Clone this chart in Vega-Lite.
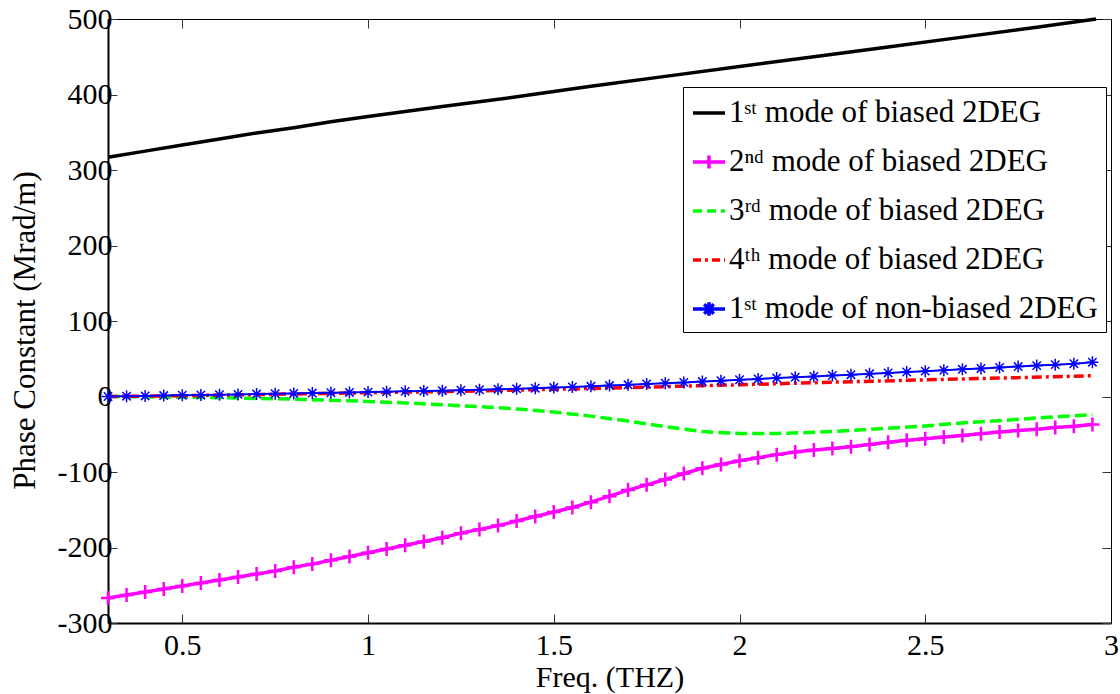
{
  "$schema": "https://vega.github.io/schema/vega-lite/v6.json",
  "width": 1003,
  "height": 604,
  "autosize": {"type": "none"},
  "padding": {"left": 108, "top": 19, "right": 9, "bottom": 71},
  "background": "white",
  "config": {
    "view": {"stroke": null},
    "font": "Liberation Serif",
    "axis": {
      "grid": false,
      "domainColor": "black",
      "tickColor": "#333333",
      "tickWidth": 1,
      "labelFont": "Liberation Serif",
      "labelFontSize": 30,
      "labelColor": "black",
      "titleFont": "Liberation Serif",
      "titleFontSize": 31,
      "titleFontWeight": "normal",
      "titleColor": "black",
      "labelOverlap": false,
      "labelFlush": false
    }
  },
  "datasets": {
    "d": [
      {"s": "m1", "x": 0.3, "y": 317}, {"s": "m1", "x": 0.4, "y": 325}, {"s": "m1", "x": 0.5, "y": 333}, {"s": "m1", "x": 0.6, "y": 341}, {"s": "m1", "x": 0.7, "y": 349}, {"s": "m1", "x": 0.8, "y": 356}, {"s": "m1", "x": 0.9, "y": 364}, {"s": "m1", "x": 1.0, "y": 371}, {"s": "m1", "x": 1.2, "y": 384}, {"s": "m1", "x": 1.4, "y": 397}, {"s": "m1", "x": 1.6, "y": 411}, {"s": "m1", "x": 1.8, "y": 424}, {"s": "m1", "x": 2.0, "y": 437}, {"s": "m1", "x": 2.2, "y": 450}, {"s": "m1", "x": 2.4, "y": 463}, {"s": "m1", "x": 2.6, "y": 476}, {"s": "m1", "x": 2.8, "y": 489}, {"s": "m1", "x": 2.96, "y": 500},

      {"s": "m2", "x": 0.30, "y": -267}, {"s": "m2", "x": 0.35, "y": -263}, {"s": "m2", "x": 0.40, "y": -259}, {"s": "m2", "x": 0.45, "y": -255}, {"s": "m2", "x": 0.50, "y": -251}, {"s": "m2", "x": 0.55, "y": -247}, {"s": "m2", "x": 0.60, "y": -243}, {"s": "m2", "x": 0.65, "y": -239}, {"s": "m2", "x": 0.70, "y": -235}, {"s": "m2", "x": 0.75, "y": -231}, {"s": "m2", "x": 0.80, "y": -226}, {"s": "m2", "x": 0.85, "y": -222}, {"s": "m2", "x": 0.90, "y": -217}, {"s": "m2", "x": 0.95, "y": -212}, {"s": "m2", "x": 1.00, "y": -207}, {"s": "m2", "x": 1.05, "y": -202}, {"s": "m2", "x": 1.10, "y": -197}, {"s": "m2", "x": 1.15, "y": -192}, {"s": "m2", "x": 1.20, "y": -187}, {"s": "m2", "x": 1.25, "y": -181}, {"s": "m2", "x": 1.30, "y": -176}, {"s": "m2", "x": 1.35, "y": -171}, {"s": "m2", "x": 1.40, "y": -165}, {"s": "m2", "x": 1.45, "y": -159}, {"s": "m2", "x": 1.50, "y": -153}, {"s": "m2", "x": 1.55, "y": -147}, {"s": "m2", "x": 1.60, "y": -140}, {"s": "m2", "x": 1.65, "y": -132}, {"s": "m2", "x": 1.70, "y": -124}, {"s": "m2", "x": 1.75, "y": -117}, {"s": "m2", "x": 1.80, "y": -110}, {"s": "m2", "x": 1.85, "y": -102}, {"s": "m2", "x": 1.90, "y": -95}, {"s": "m2", "x": 1.95, "y": -90}, {"s": "m2", "x": 2.00, "y": -85}, {"s": "m2", "x": 2.05, "y": -81}, {"s": "m2", "x": 2.10, "y": -77}, {"s": "m2", "x": 2.15, "y": -73.5}, {"s": "m2", "x": 2.20, "y": -71}, {"s": "m2", "x": 2.25, "y": -69}, {"s": "m2", "x": 2.30, "y": -66.5}, {"s": "m2", "x": 2.35, "y": -63.5}, {"s": "m2", "x": 2.40, "y": -60.5}, {"s": "m2", "x": 2.45, "y": -58}, {"s": "m2", "x": 2.50, "y": -56}, {"s": "m2", "x": 2.55, "y": -53.5}, {"s": "m2", "x": 2.60, "y": -51.5}, {"s": "m2", "x": 2.65, "y": -49.3}, {"s": "m2", "x": 2.70, "y": -47}, {"s": "m2", "x": 2.75, "y": -45}, {"s": "m2", "x": 2.80, "y": -43.3}, {"s": "m2", "x": 2.85, "y": -41.2}, {"s": "m2", "x": 2.90, "y": -39.3}, {"s": "m2", "x": 2.95, "y": -37},

      {"s": "m3", "x": 0.3, "y": 0}, {"s": "m3", "x": 0.4, "y": -0.5}, {"s": "m3", "x": 0.5, "y": -1}, {"s": "m3", "x": 0.6, "y": -1.5}, {"s": "m3", "x": 0.7, "y": -2.5}, {"s": "m3", "x": 0.8, "y": -3.5}, {"s": "m3", "x": 0.9, "y": -5}, {"s": "m3", "x": 1.0, "y": -6.5}, {"s": "m3", "x": 1.1, "y": -8.5}, {"s": "m3", "x": 1.2, "y": -11}, {"s": "m3", "x": 1.3, "y": -13.5}, {"s": "m3", "x": 1.4, "y": -16.5}, {"s": "m3", "x": 1.5, "y": -20.5}, {"s": "m3", "x": 1.6, "y": -26}, {"s": "m3", "x": 1.7, "y": -32.5}, {"s": "m3", "x": 1.8, "y": -40}, {"s": "m3", "x": 1.9, "y": -46.5}, {"s": "m3", "x": 2.0, "y": -49}, {"s": "m3", "x": 2.1, "y": -49}, {"s": "m3", "x": 2.2, "y": -47.5}, {"s": "m3", "x": 2.3, "y": -45}, {"s": "m3", "x": 2.4, "y": -42}, {"s": "m3", "x": 2.5, "y": -39}, {"s": "m3", "x": 2.6, "y": -35}, {"s": "m3", "x": 2.7, "y": -32}, {"s": "m3", "x": 2.8, "y": -28.5}, {"s": "m3", "x": 2.9, "y": -25.5}, {"s": "m3", "x": 2.95, "y": -24},

      {"s": "m4", "x": 0.3, "y": 0}, {"s": "m4", "x": 0.5, "y": 1}, {"s": "m4", "x": 0.7, "y": 2.5}, {"s": "m4", "x": 1.0, "y": 5}, {"s": "m4", "x": 1.25, "y": 7}, {"s": "m4", "x": 1.5, "y": 9.5}, {"s": "m4", "x": 1.75, "y": 12.5}, {"s": "m4", "x": 2.0, "y": 15.5}, {"s": "m4", "x": 2.25, "y": 19}, {"s": "m4", "x": 2.5, "y": 22}, {"s": "m4", "x": 2.75, "y": 25}, {"s": "m4", "x": 2.95, "y": 27.5},

      {"s": "nb", "x": 0.30, "y": 0}, {"s": "nb", "x": 0.35, "y": 0.4}, {"s": "nb", "x": 0.40, "y": 0.8}, {"s": "nb", "x": 0.45, "y": 1.2}, {"s": "nb", "x": 0.50, "y": 1.6}, {"s": "nb", "x": 0.55, "y": 2.0}, {"s": "nb", "x": 0.60, "y": 2.4}, {"s": "nb", "x": 0.65, "y": 2.8}, {"s": "nb", "x": 0.70, "y": 3.2}, {"s": "nb", "x": 0.75, "y": 3.7}, {"s": "nb", "x": 0.80, "y": 4.1}, {"s": "nb", "x": 0.85, "y": 4.5}, {"s": "nb", "x": 0.90, "y": 5.0}, {"s": "nb", "x": 0.95, "y": 5.4}, {"s": "nb", "x": 1.00, "y": 5.8}, {"s": "nb", "x": 1.05, "y": 6.3}, {"s": "nb", "x": 1.10, "y": 6.8}, {"s": "nb", "x": 1.15, "y": 7.2}, {"s": "nb", "x": 1.20, "y": 7.7}, {"s": "nb", "x": 1.25, "y": 8.3}, {"s": "nb", "x": 1.30, "y": 8.9}, {"s": "nb", "x": 1.35, "y": 9.5}, {"s": "nb", "x": 1.40, "y": 10.2}, {"s": "nb", "x": 1.45, "y": 11.0}, {"s": "nb", "x": 1.50, "y": 11.8}, {"s": "nb", "x": 1.55, "y": 12.6}, {"s": "nb", "x": 1.60, "y": 13.5}, {"s": "nb", "x": 1.65, "y": 14.5}, {"s": "nb", "x": 1.70, "y": 15.5}, {"s": "nb", "x": 1.75, "y": 16.5}, {"s": "nb", "x": 1.80, "y": 17.6}, {"s": "nb", "x": 1.85, "y": 18.7}, {"s": "nb", "x": 1.90, "y": 19.8}, {"s": "nb", "x": 1.95, "y": 21.0}, {"s": "nb", "x": 2.00, "y": 22.2}, {"s": "nb", "x": 2.05, "y": 23.3}, {"s": "nb", "x": 2.10, "y": 24.4}, {"s": "nb", "x": 2.15, "y": 25.5}, {"s": "nb", "x": 2.20, "y": 26.6}, {"s": "nb", "x": 2.25, "y": 27.8}, {"s": "nb", "x": 2.30, "y": 28.9}, {"s": "nb", "x": 2.35, "y": 30.0}, {"s": "nb", "x": 2.40, "y": 31.2}, {"s": "nb", "x": 2.45, "y": 32.4}, {"s": "nb", "x": 2.50, "y": 33.6}, {"s": "nb", "x": 2.55, "y": 34.8}, {"s": "nb", "x": 2.60, "y": 36.0}, {"s": "nb", "x": 2.65, "y": 37.2}, {"s": "nb", "x": 2.70, "y": 38.4}, {"s": "nb", "x": 2.75, "y": 39.6}, {"s": "nb", "x": 2.80, "y": 40.9}, {"s": "nb", "x": 2.85, "y": 42.2}, {"s": "nb", "x": 2.90, "y": 43.5}, {"s": "nb", "x": 2.95, "y": 45.5}
    ]
  },
  "data": {"name": "d"},
  "layer": [
    {
      "transform": [{"filter": "datum.s == 'm1'"}],
      "mark": {"type": "line", "color": "#000000", "strokeWidth": 3.5},
      "encoding": {
        "x": {"field": "x", "type": "quantitative", "scale": {"domain": [0.3, 3], "nice": false, "zero": false},
          "axis": {"orient": "bottom", "values": [0.5, 1, 1.5, 2, 2.5, 3], "format": "~g", "tickSize": -9, "labelPadding": 16, "domainWidth": 2, "title": "Freq. (THZ)", "titleFontSize": 30, "titlePadding": 2}},
        "y": {"field": "y", "type": "quantitative", "scale": {"domain": [-300, 500], "nice": false, "zero": false},
          "axis": {"orient": "left", "values": [-300, -200, -100, 0, 100, 200, 300, 400, 500], "labelExpr": "'' + datum.value", "tickSize": -9, "labelPadding": 5, "domainWidth": 2, "title": "Phase Constant (Mrad/m)", "titlePadding": 16, "titleY": 311}}
      }
    },
    {
      "transform": [{"filter": "datum.s == 'm2'"}],
      "mark": {"type": "line", "color": "#ff00ff", "strokeWidth": 3.5},
      "encoding": {
        "x": {"field": "x", "type": "quantitative", "axis": null},
        "y": {"field": "y", "type": "quantitative", "axis": null}
      }
    },
    {
      "transform": [{"filter": "datum.s == 'm2'"}],
      "mark": {"type": "point", "shape": "M-1,0H1M0,-1V1", "size": 196, "filled": false, "stroke": "#ff00ff", "strokeWidth": 2.5, "opacity": 1},
      "encoding": {
        "x": {"field": "x", "type": "quantitative", "axis": null},
        "y": {"field": "y", "type": "quantitative", "axis": null}
      }
    },
    {
      "transform": [{"filter": "datum.s == 'm3'"}],
      "mark": {"type": "line", "color": "#00ff00", "strokeWidth": 3.5, "strokeDash": [12, 5]},
      "encoding": {
        "x": {"field": "x", "type": "quantitative", "axis": null},
        "y": {"field": "y", "type": "quantitative", "axis": null}
      }
    },
    {
      "transform": [{"filter": "datum.s == 'm4'"}],
      "mark": {"type": "line", "color": "#ff0000", "strokeWidth": 3.5, "strokeDash": [10, 4, 3, 4]},
      "encoding": {
        "x": {"field": "x", "type": "quantitative", "axis": null},
        "y": {"field": "y", "type": "quantitative", "axis": null}
      }
    },
    {
      "transform": [{"filter": "datum.s == 'nb'"}],
      "mark": {"type": "line", "color": "#0000ff", "strokeWidth": 2},
      "encoding": {
        "x": {"field": "x", "type": "quantitative", "axis": null},
        "y": {"field": "y", "type": "quantitative", "axis": null}
      }
    },
    {
      "transform": [{"filter": "datum.s == 'nb'"}],
      "mark": {"type": "point", "shape": "M-1,0L1,0M0,-1L0,1M-0.7,-0.7L0.7,0.7M-0.7,0.7L0.7,-0.7", "size": 144, "filled": false, "stroke": "#0000ff", "strokeWidth": 1.5, "opacity": 1},
      "encoding": {
        "x": {"field": "x", "type": "quantitative", "axis": null},
        "y": {"field": "y", "type": "quantitative", "axis": null}
      }
    },
    {
      "transform": [{"filter": "datum.x > 99"}],
      "mark": {"type": "point", "filled": false, "opacity": 1},
      "encoding": {
        "x": {"field": "x", "type": "quantitative",
          "axis": {"orient": "top", "values": [0.5, 1, 1.5, 2, 2.5, 3], "labels": false, "tickSize": -9, "domainWidth": 1, "title": null}},
        "y": {"field": "y", "type": "quantitative",
          "axis": {"orient": "right", "values": [-300, -200, -100, 0, 100, 200, 300, 400, 500], "labels": false, "tickSize": -9, "domainWidth": 1, "title": null}},
        "color": {"field": "s", "type": "nominal",
          "scale": {"domain": ["m1", "m2", "m3", "m4", "nb"], "range": ["#000000", "#ff00ff", "#00ff00", "#ff0000", "#0000ff"]},
          "legend": {
            "orient": "none", "legendX": 575, "legendY": 68, "title": null,
            "labelExpr": "datum.label == 'm1' ? '1ˢᵗ mode of biased 2DEG' : datum.label == 'm2' ? '2ⁿᵈ mode of biased 2DEG' : datum.label == 'm3' ? '3ʳᵈ mode of biased 2DEG' : datum.label == 'm4' ? '4ᵗʰ mode of biased 2DEG' : '1ˢᵗ mode of non-biased 2DEG'",
            "labelFont": "Liberation Serif", "labelFontSize": 31, "labelColor": "black", "labelLimit": 0,
            "symbolSize": 1024, "rowPadding": 16, "padding": 8, "labelOffset": 2,
            "fillColor": "white", "strokeColor": "black", "cornerRadius": 0
          }},
        "shape": {"field": "s", "type": "nominal",
          "scale": {"domain": ["m1", "m2", "m3", "m4", "nb"], "range": ["M-1,0H1", "M-1,0H1M0,-0.4V0.4", "M-1,0H1", "M-1,0H1", "M-1,0H1M0,-0.42V0.42M-0.3,-0.3L0.3,0.3M-0.3,0.3L0.3,-0.3"]}},
        "strokeDash": {"field": "s", "type": "nominal",
          "scale": {"domain": ["m1", "m2", "m3", "m4", "nb"], "range": [[1, 0], [1, 0], [9, 5], [8, 4, 3, 4], [1, 0]]}},
        "strokeWidth": {"field": "s", "type": "nominal",
          "scale": {"domain": ["m1", "m2", "m3", "m4", "nb"], "range": [3.5, 3.5, 3.5, 3.5, 1.5]}}
      }
    }
  ]
}
